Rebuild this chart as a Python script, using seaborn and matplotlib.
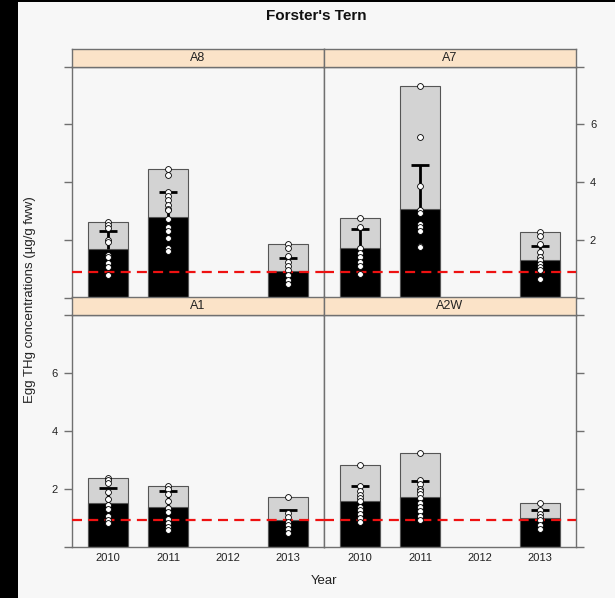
import numpy as np
import pandas as pd
import matplotlib
matplotlib.use("Agg")
import matplotlib.pyplot as plt
from matplotlib.patches import Rectangle
import seaborn as sns

# ---- data ----
years = ["2010", "2011", "2012", "2013"]
sites = ["A8", "A7", "A1", "A2W"]
threshold = 0.9  # red dashed reference line

# black bar = mean, T cap = mean + error, grey bar = max; 2012 not sampled
mean_thg = {
    "A8":  [1.69, 2.79, np.nan, 0.94],
    "A7":  [1.72, 3.09, np.nan, 1.31],
    "A1":  [1.50, 1.36, np.nan, 0.92],
    "A2W": [1.56, 1.70, np.nan, 0.98],
}
upper_thg = {
    "A8":  [2.30, 3.66, np.nan, 1.37],
    "A7":  [2.40, 4.58, np.nan, 1.80],
    "A1":  [2.02, 1.93, np.nan, 1.25],
    "A2W": [2.08, 2.28, np.nan, 1.25],
}
max_thg = {
    "A8":  [2.63, 4.45, np.nan, 1.87],
    "A7":  [2.76, 7.32, np.nan, 2.28],
    "A1":  [2.37, 2.10, np.nan, 1.71],
    "A2W": [2.81, 3.24, np.nan, 1.50],
}

# individual eggs
eggs = {
    "A8": {
        "2010": [2.63, 2.53, 2.42, 2.01, 1.92, 1.49, 1.43, 1.22, 1.08, 0.79],
        "2011": [4.45, 4.24, 3.66, 3.52, 3.38, 3.23, 3.08, 3.03, 2.74, 2.45, 2.30, 2.07, 1.72, 1.64],
        "2013": [1.87, 1.72, 1.45, 1.26, 1.11, 0.97, 0.79, 0.62, 0.47],
    },
    "A7": {
        "2010": [2.76, 2.46, 1.72, 1.57, 1.43, 1.26, 1.11, 0.83],
        "2011": [7.32, 5.57, 3.87, 3.05, 2.94, 2.57, 2.45, 2.33, 1.81, 1.75],
        "2013": [2.28, 2.15, 1.87, 1.60, 1.43, 1.31, 1.18, 1.08, 0.97, 0.64],
    },
    "A1": {
        "2010": [2.37, 2.29, 2.20, 1.87, 1.64, 1.44, 1.29, 1.04, 0.92, 0.81],
        "2011": [2.10, 1.99, 1.83, 1.56, 1.33, 1.18, 0.95, 0.81, 0.69, 0.57],
        "2013": [1.71, 1.15, 1.02, 0.86, 0.75, 0.60, 0.46],
    },
    "A2W": {
        "2010": [2.81, 2.10, 1.91, 1.79, 1.68, 1.56, 1.38, 1.25, 1.13, 0.98, 0.86],
        "2011": [3.24, 2.30, 2.16, 1.99, 1.91, 1.83, 1.68, 1.50, 1.36, 1.22, 1.06, 0.92],
        "2013": [1.50, 1.25, 1.13, 1.02, 0.92, 0.75, 0.60],
    },
}

# ---- style ----
sns.set_style("white")
plt.rcParams["font.family"] = ["Liberation Sans", "DejaVu Sans"]
BG = "#f7f7f7"
FRAME = "#707070"
STRIP = "#fbe3c8"

W, H = 615, 598
fig = plt.figure(figsize=(W / 100, H / 100), dpi=100, facecolor=BG)

# screenshot edges
fig.patches.append(Rectangle((0, 0), 18 / W, 1, transform=fig.transFigure,
                             facecolor="black", edgecolor="none", zorder=0))
fig.patches.append(Rectangle((0, 1 - 2 / H), 1, 2 / H, transform=fig.transFigure,
                             facecolor="black", edgecolor="none", zorder=0))

# panel boxes in pixels: (left, top, right, bottom)
panel_px = {
    "A8":  (72, 66.5, 324, 298),
    "A7":  (324, 66.5, 576, 298),
    "A1":  (72, 315, 324, 546.5),
    "A2W": (324, 315, 576, 546.5),
}
strip_h = 17.5

for site in sites:
    l, t, r, b = panel_px[site]
    ax = fig.add_axes([l / W, 1 - b / H, (r - l) / W, (b - t) / H])
    ax.set_facecolor(BG)

    bars = pd.DataFrame({"year": years, "mean": mean_thg[site], "max": max_thg[site]})
    sns.barplot(data=bars, x="year", y="max", order=years, color="#d3d3d3",
                saturation=1, edgecolor="#555555", linewidth=0.8, width=0.68,
                errorbar=None, ax=ax, zorder=1)
    sns.barplot(data=bars, x="year", y="mean", order=years, color="black",
                saturation=1, edgecolor="#555555", linewidth=0.8, width=0.68,
                errorbar=None, ax=ax, zorder=2)

    # upper error bar (T shape)
    xpos = np.array([years.index(y) for y in years], dtype=float)
    m = np.array(mean_thg[site])
    u = np.array(upper_thg[site])
    ok = ~np.isnan(m)
    ax.vlines(xpos[ok], m[ok], u[ok], color="black", lw=2, zorder=3)
    ax.hlines(u[ok], xpos[ok] - 0.15, xpos[ok] + 0.15, color="black", lw=2, zorder=3)

    ax.axhline(threshold, color="#ee1111", ls="--", lw=1.6, dashes=(4.5, 2.8), zorder=3)

    pts = pd.DataFrame([(y, v) for y, vals in eggs[site].items() for v in vals],
                       columns=["year", "thg"])
    sns.stripplot(data=pts, x="year", y="thg", order=years, jitter=False,
                  color="white", edgecolor="black", linewidth=0.6, size=4.2,
                  ax=ax, zorder=4)

    ax.set_xlim(-0.6, 3.6)
    ax.set_ylim(0, 8)
    ax.set_xlabel("")
    ax.set_ylabel("")
    for sp in ax.spines.values():
        sp.set_color(FRAME)
        sp.set_linewidth(1)
        sp.set_visible(True)

    ax.set_yticks([0, 2, 4, 6, 8])
    ax.tick_params(axis="y", length=6, width=1, color=FRAME, labelsize=8,
                   labelcolor="#222222", pad=4, direction="out")
    ax.tick_params(axis="x", length=0, labelsize=8, labelcolor="#222222", pad=5)
    ylabels = ["", "2", "4", "6", ""]
    if site == "A8":
        ax.yaxis.set_ticks_position("left")
        ax.set_yticklabels([""] * 5)
    elif site == "A7":
        ax.yaxis.set_ticks_position("right")
        ax.set_yticklabels(ylabels)
    elif site == "A1":
        ax.yaxis.set_ticks_position("left")
        ax.set_yticklabels(ylabels)
    else:
        ax.yaxis.set_ticks_position("right")
        ax.set_yticklabels([""] * 5)
    if site in ("A8", "A7"):
        ax.set_xticklabels([])

    # strip with panel name
    sax = fig.add_axes([l / W, 1 - t / H, (r - l) / W, strip_h / H])
    sax.set_facecolor(STRIP)
    sax.set_xticks([])
    sax.set_yticks([])
    for sp in sax.spines.values():
        sp.set_color(FRAME)
        sp.set_linewidth(1)
    sax.text(0.5, 0.5, site, ha="center", va="center", fontsize=9, color="#222222",
             transform=sax.transAxes)

fig.text(316 / W, 1 - 16 / H, "Forster's Tern", ha="center", va="center",
         fontsize=11, fontweight="bold", color="#111111")
fig.text(30 / W, 1 - 300 / H, "Egg THg concentrations (µg/g fww)", rotation=90,
         ha="center", va="center", fontsize=9.5, color="#222222")
fig.text(324 / W, 1 - 581 / H, "Year", ha="center", va="center", fontsize=9.5,
         color="#222222")

fig.savefig("out.png", dpi=100, facecolor=BG)
